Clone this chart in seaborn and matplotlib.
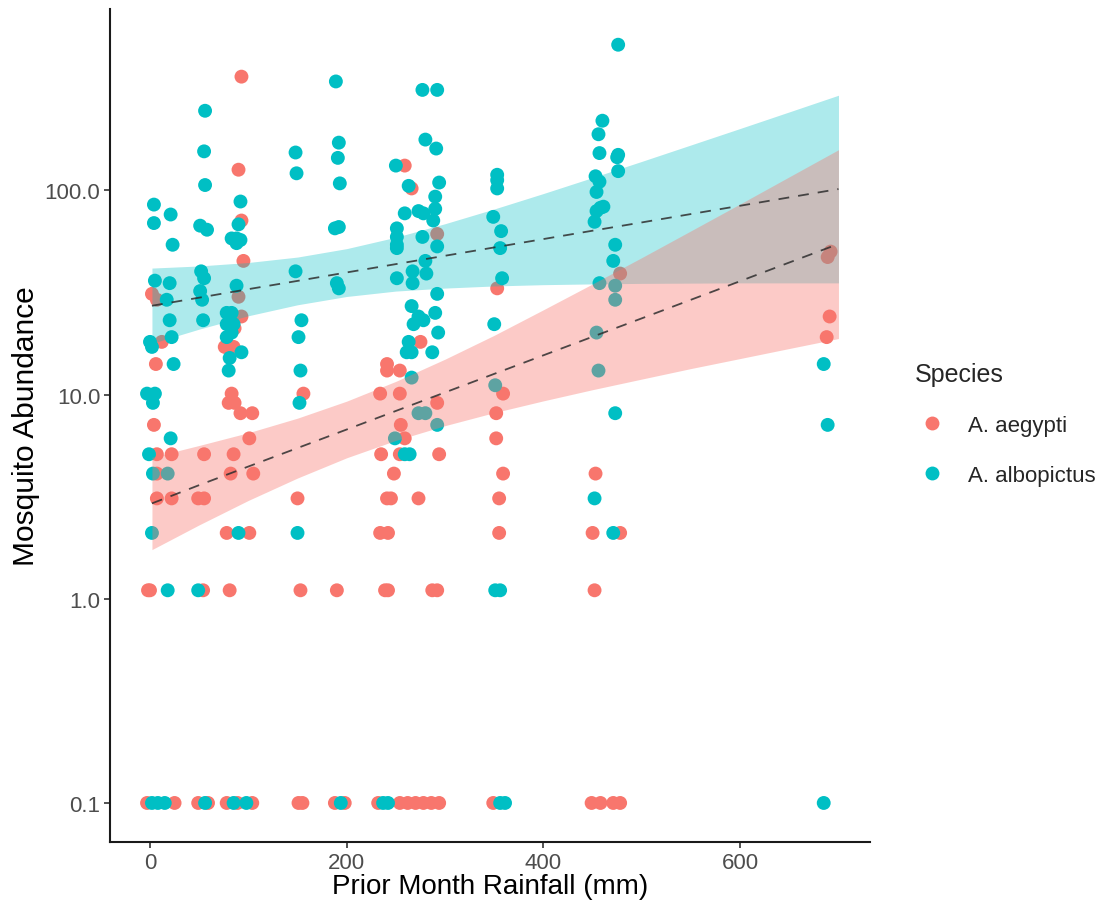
import numpy as np
import pandas as pd
import seaborn as sns
import matplotlib
matplotlib.use("Agg")
import matplotlib.pyplot as plt
from matplotlib.lines import Line2D

# ---- observations: prior-month rainfall (mm) and mosquito counts per trap ----
aegypti_rain = [
    2, 7, 12, 6, 4, 7, 7, 7, -2, 0, -3, 25, 22, 22,
    49, 55, 55, 54, 49, 59,
    93, 90, 93, 95, 90, 93, 86, 76, 85, 83, 80, 86, 92, 104, 101, 85, 82, 105,
    78, 101, 81, 78, 89, 104,
    150, 156, 153, 151, 155,
    190, 188, 198,
    259, 266, 292, 275, 241, 241, 254, 234, 254, 292, 255, 259, 235, 254, 294,
    248, 241, 245, 273, 234, 242, 239, 242, 287, 292,
    232, 254, 262, 270, 278, 286, 294,
    353, 359, 352, 352, 359, 355, 355, 349,
    478, 453, 450, 478, 452, 449, 458, 471, 478,
    689, 692, 691, 688,
]
aegypti_count = [
    31, 29, 18, 14, 7, 5, 4, 3, 1, 1, 0, 0, 5, 3,
    3, 3, 5, 1, 0, 0,
    360, 126, 71, 45, 30, 24, 21, 17, 17, 10, 9, 9, 8, 8, 6, 5, 4, 4,
    2, 2, 1, 0, 0, 0,
    3, 10, 1, 0, 0,
    1, 0, 0,
    132, 102, 61, 18, 14, 13, 13, 10, 10, 9, 7, 6, 5, 5, 5,
    4, 3, 3, 3, 2, 2, 1, 1, 1, 1,
    0, 0, 0, 0, 0, 0, 0,
    33, 10, 8, 6, 4, 3, 2, 0,
    39, 4, 2, 2, 1, 0, 0, 0, 0,
    47, 50, 24, 19,
]

albopictus_rain = [
    4, 4, 5, 0, 2, -3, 5, 3, -1, 3, 2, 2, 8, 15,
    21, 23, 20, 17, 20, 22, 24, 21, 18, 18,
    56, 55, 56, 51, 58, 52, 55, 51, 53, 54, 49, 56,
    92, 90, 83, 88, 92, 88, 88, 78, 83, 78, 85, 83, 78, 93, 81, 80, 90, 85, 98,
    148, 149, 148, 154, 151, 153, 152, 150,
    189, 192, 191, 193, 188, 192, 190, 192, 194,
    277, 292, 280, 291, 250, 263, 294, 290, 290, 259, 273, 278, 288,
    251, 251, 251, 251, 277, 292, 280, 251, 267, 267, 281, 292,
    266, 273, 290, 268, 278, 293, 263, 261, 266, 287, 266, 273, 280,
    292, 249, 259, 264, 237, 242,
    353, 353, 353, 349, 357, 356, 358, 350, 351, 351, 356, 356, 361,
    476, 460, 456, 457, 476, 475, 476, 453, 457, 454, 458, 461, 454, 452,
    473, 471, 457, 473, 473, 454, 456, 473, 452, 471,
    685, 689, 685,
]
albopictus_count = [
    85, 69, 36, 18, 17, 10, 10, 9, 5, 4, 2, 0, 0, 0,
    76, 54, 35, 29, 23, 19, 14, 6, 4, 1,
    245, 155, 106, 67, 64, 40, 37, 32, 29, 23, 1, 0,
    88, 68, 58, 58, 57, 55, 34, 25, 25, 22, 22, 20, 19, 16, 15, 13, 2, 0, 0,
    153, 121, 40, 23, 19, 13, 9, 2,
    341, 171, 144, 108, 65, 66, 35, 33, 0,
    310, 310, 177, 160, 132, 105, 109, 93, 81, 77, 79, 77, 71,
    65, 59, 54, 52, 59, 53, 45, 37, 40, 35, 39, 31,
    27, 24, 25, 22, 23, 20, 18, 16, 16, 16, 12, 8, 8,
    7, 6, 5, 5, 0, 0,
    119, 112, 102, 74, 63, 52, 37, 22, 11, 1, 1, 0, 0,
    516, 219, 188, 152, 149, 145, 124, 117, 110, 98, 82, 83, 79, 70,
    54, 45, 35, 34, 29, 20, 13, 8, 3, 2,
    14, 7, 0,
]

# ---- fitted log-linear trend and 95% band (abundance + 0.1 scale) ----
fit_rain = [2, 50, 100, 150, 200, 250, 300, 350, 400, 450, 500, 550, 600, 650, 700]
aegypti_fit = [2.93, 3.60, 4.44, 5.47, 6.74, 8.31, 10.24, 12.62, 15.56, 19.18,
               23.6, 29.1, 35.9, 44.3, 54.6]
aegypti_upper = [4.93, 5.63, 6.50, 7.66, 9.28, 11.6, 14.9, 19.5, 26.0, 34.8,
                 46.8, 63.3, 85.7, 116.4, 158.0]
aegypti_lower = [1.74, 2.30, 3.03, 3.90, 4.90, 5.96, 7.04, 8.15, 9.31, 10.56,
                 11.9, 13.4, 15.0, 16.8, 18.8]
albopictus_fit = [27.2, 29.8, 32.8, 36.0, 39.6, 43.5, 47.8, 52.5, 57.7, 63.4,
                  69.6, 76.5, 84.0, 92.3, 101.4]
albopictus_upper = [41.6, 42.6, 44.3, 47.1, 51.8, 58.9, 68.6, 81.0, 96.4, 115.4,
                    138.5, 166.7, 200.7, 242.0, 292.0]
albopictus_lower = [17.8, 20.9, 24.3, 27.5, 30.2, 32.1, 33.2, 34.0, 34.5, 34.8,
                    35.0, 35.1, 35.2, 35.2, 35.2]

species_names = ["A. aegypti", "A. albopictus"]
species_colors = ["#F8766D", "#00BFC4"]
ribbon_alpha = {"A. aegypti": 0.38, "A. albopictus": 0.32}
x_ticks = [0, 200, 400, 600]
y_ticks = [0.1, 1.0, 10.0, 100.0]
y_tick_labels = ["0.1", "1.0", "10.0", "100.0"]

obs = pd.concat([
    pd.DataFrame({"Rainfall": aegypti_rain, "Count": aegypti_count,
                  "Species": species_names[0]}),
    pd.DataFrame({"Rainfall": albopictus_rain, "Count": albopictus_count,
                  "Species": species_names[1]}),
], ignore_index=True)
obs["Abundance"] = obs["Count"] + 0.1

sns.set_theme(style="ticks")
plt.rcParams["font.family"] = ["Liberation Sans", "DejaVu Sans"]

fig = plt.figure(figsize=(11.04, 9.2), dpi=100)
ax = fig.add_axes([0.0996, 0.0837, 0.6884, 0.9053])

sns.scatterplot(data=obs, x="Rainfall", y="Abundance", hue="Species",
                hue_order=species_names, palette=species_colors,
                s=100, linewidth=0, alpha=1.0, legend=False, ax=ax, zorder=2)
ax.set_yscale("log")

bands = {
    species_names[0]: (aegypti_lower, aegypti_upper, aegypti_fit, species_colors[0]),
    species_names[1]: (albopictus_lower, albopictus_upper, albopictus_fit, species_colors[1]),
}
# ribbons: albopictus first so the aegypti ribbon tints the overlap
for name in (species_names[1], species_names[0]):
    lower, upper, fit, col = bands[name]
    ax.fill_between(fit_rain, lower, upper, color=col, alpha=ribbon_alpha[name],
                    linewidth=0, zorder=3)
for name in species_names:
    lower, upper, fit, col = bands[name]
    ax.plot(fit_rain, fit, color="#2e2e2e", lw=1.3, alpha=0.85,
            linestyle=(0, (6, 5)), zorder=4)

ax.set_xlim(-40.7, 732)
ax.set_ylim(0.0644, 771)
ax.set_xticks(x_ticks)
ax.set_xticklabels([str(t) for t in x_ticks])
ax.set_yticks(y_ticks)
ax.set_yticklabels(y_tick_labels)
ax.minorticks_off()

sns.despine(ax=ax)
for side in ("left", "bottom"):
    ax.spines[side].set_linewidth(1.5)
    ax.spines[side].set_color("#1a1a1a")
ax.tick_params(axis="both", length=4, width=1.2, color="#333333",
               labelcolor="#4D4D4D", labelsize=16, pad=3)

ax.set_xlabel("Prior Month Rainfall (mm)", fontsize=20, color="black", labelpad=0)
ax.set_ylabel("Mosquito Abundance", fontsize=21.5, color="black", labelpad=3)

handles = [Line2D([0], [0], marker="o", linestyle="none", markersize=10,
                  markerfacecolor=c, markeredgewidth=0) for c in species_colors]
leg = ax.legend(handles, species_names, title="Species", frameon=False,
                loc="upper left", bbox_to_anchor=(0.8204, 0.615),
                bbox_transform=fig.transFigure, fontsize=16,
                title_fontsize=18, labelspacing=1.3, handletextpad=0.8,
                handlelength=1.6, borderaxespad=0, alignment="left")

fig.savefig("out.png", dpi=100)
